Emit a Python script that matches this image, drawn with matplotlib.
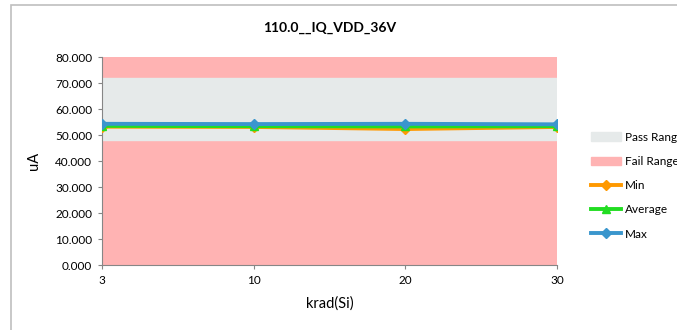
import matplotlib.pyplot as plt
from matplotlib.patches import Rectangle

# дані
categories = ['3', '10', '20', '30']
min_vals = [53.2, 53.1, 52.3, 53.1]
avg_vals = [53.5, 53.4, 53.3, 53.4]
max_vals = [54.3, 54.2, 54.3, 54.1]
pass_range = [48.0, 72.0]
fail_range = [0.0, 80.0]
y_ticks = [0, 10, 20, 30, 40, 50, 60, 70, 80]

plt.rcParams['font.family'] = ['Lato', 'DejaVu Sans']

fig = plt.figure(figsize=(6.77, 3.3), dpi=100)
ax = fig.add_axes([102 / 677, 1 - 265 / 330, 455 / 677, 208 / 330])

# рамка навколо діаграми
fig.patches.append(Rectangle((11 / 677, -0.1), 1.1, 1 - 5 / 330 + 0.1,
                             transform=fig.transFigure, fill=False,
                             edgecolor='#bfbfbf', linewidth=1.2, zorder=0))

x = list(range(len(categories)))
fail = ax.axhspan(fail_range[0], fail_range[1], color='#ffb3b3', zorder=1, label='Fail Range')
pss = ax.axhspan(pass_range[0], pass_range[1], color='#e6eaea', zorder=2, label='Pass Range')

l_min, = ax.plot(x, min_vals, color='#ff9900', marker='D', markersize=5, linewidth=2.8,
                 zorder=4, label='Min')
l_avg, = ax.plot(x, avg_vals, color='#22dd22', marker='^', markersize=6, linewidth=2.8,
                 zorder=5, label='Average')
l_max, = ax.plot(x, max_vals, color='#3a96cd', marker='D', markersize=5, linewidth=2.8,
                 zorder=6, label='Max')

ax.set_xlim(0, len(categories) - 1)
ax.set_ylim(0, 80)
ax.set_xticks(x)
ax.set_xticklabels(categories)
ax.set_yticks(y_ticks)
ax.set_yticklabels([f'{v:.3f}' for v in y_ticks])
ax.tick_params(labelsize=8.5, length=3, color='#868686', pad=4)
for s in ['top', 'right']:
    ax.spines[s].set_visible(False)
for s in ['left', 'bottom']:
    ax.spines[s].set_color('#868686')

ax.set_xlabel('krad(Si)', fontsize=10.5, labelpad=8)
ax.set_ylabel('uA', fontsize=10.5, labelpad=10)
ax.set_title('110.0__IQ_VDD_36V', fontsize=10, fontweight='bold', pad=18)

fig.legend(handles=[pss, fail, l_min, l_avg, l_max], loc='upper left',
           bbox_to_anchor=(580 / 677, 1 - 121 / 330), frameon=False, fontsize=8.5,
           handlelength=2.6, handletextpad=0.3, labelspacing=1.12)

plt.savefig('out.png', dpi=100)
